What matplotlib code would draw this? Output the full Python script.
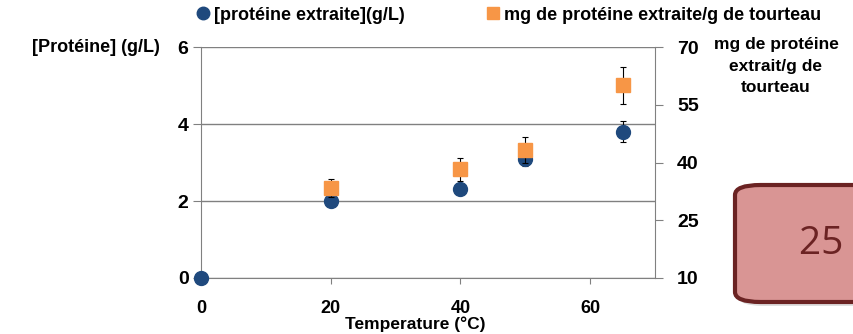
import matplotlib
matplotlib.use("Agg")
import matplotlib.pyplot as plt
from matplotlib.lines import Line2D
from matplotlib.patches import FancyBboxPatch

# ── Data ───────────────────────────────────────────────────────────────────────
TEMP_CONC = [0, 20, 40, 50, 65]
CONC      = [0.0, 2.0, 2.3, 3.1, 3.8]          # [protéine extraite] (g/L)
CONC_ERR  = [0.0, 0.06, 0.12, 0.18, 0.27]

TEMP_MG   = [20, 40, 50, 65]
MG        = [33.4, 38.3, 43.2, 60.1]           # mg protéine / g tourteau
MG_ERR    = [2.3, 3.0, 3.4, 4.8]

LEFT_TICKS  = [0, 2, 4, 6]
RIGHT_TICKS = [10, 25, 40, 55, 70]
X_TICKS     = [0, 20, 40, 60]

# ── Style ──────────────────────────────────────────────────────────────────────
BLUE   = "#1f497d"
ORANGE = "#f79646"
GRID   = "#808080"
FONT   = ["Liberation Sans", "DejaVu Sans"]

plt.rcParams.update({
    "font.family": FONT,
    "font.weight": "bold",
    "font.size":   12,
})

fig = plt.figure(figsize=(8.54, 3.34), dpi=100)
ax = fig.add_axes([0.2354, 0.1677, 0.5316, 0.6913])
ax2 = ax.twinx()

ax.errorbar(TEMP_CONC, CONC, yerr=CONC_ERR, fmt="o", color=BLUE, ms=10,
            ecolor="black", elinewidth=0.8, capsize=2.5, capthick=0.8,
            zorder=4, clip_on=False)
ax2.errorbar(TEMP_MG, MG, yerr=MG_ERR, fmt="s", color=ORANGE, ms=10,
             ecolor="black", elinewidth=0.8, capsize=2.5, capthick=0.8,
             zorder=3, clip_on=False)

ax.set_xlim(0, 70)
ax.set_ylim(0, 6)
ax2.set_ylim(10, 70)
ax.set_xticks(X_TICKS)
ax.set_yticks(LEFT_TICKS)
ax2.set_yticks(RIGHT_TICKS)

ax.yaxis.grid(True, color=GRID, lw=1)
ax.set_axisbelow(True)

for a in (ax, ax2):
    for s in a.spines.values():
        s.set_color(GRID)
    a.spines["top"].set_visible(False)
ax.spines["right"].set_visible(False)
ax2.spines["left"].set_visible(False)
ax2.spines["bottom"].set_visible(False)

ax.tick_params(axis="y", length=6, color=GRID, pad=3, labelsize=14)
ax.tick_params(axis="x", length=4, color=GRID, pad=12, labelsize=13)
ax2.tick_params(axis="y", length=6, color=GRID, pad=10, labelsize=14)

# axis titles
fig.text(160 / 854, 1 - 47 / 334, "[Protéine] (g/L)", ha="right", va="center",
         fontsize=13)
fig.text(776 / 854, 1 - 37 / 334, "mg de protéine\nextrait/g de\ntourteau",
         ha="center", va="top", multialignment="center", fontsize=12.5,
         linespacing=1.55)
fig.text(415 / 854, 1 - 324 / 334, "Temperature (°C)", ha="center",
         va="center", fontsize=12.5)

# legend
handles = [
    Line2D([], [], marker="o", ls="none", color=BLUE, ms=9),
    Line2D([], [], marker="s", ls="none", color=ORANGE, ms=9),
]
fig.legend(handles, ["[protéine extraite](g/L)",
                     "mg de protéine extraite/g de tourteau"],
           loc="center", bbox_to_anchor=(0.596, 0.955), ncol=2, frameon=False,
           fontsize=13, handlelength=0.6, handletextpad=0.3,
           columnspacing=4.6, borderaxespad=0)

# rounded callout box at lower right
shadow = FancyBboxPatch((738 / 854, 1 - 306 / 334), 0.3, 116 / 334,
                        boxstyle="round,pad=0,rounding_size=0.03",
                        transform=fig.transFigure, fc="#c8c8c8", ec="none",
                        alpha=0.6, zorder=1)
box = FancyBboxPatch((735 / 854, 1 - 302 / 334), 0.3, 117 / 334,
                     boxstyle="round,pad=0,rounding_size=0.03",
                     transform=fig.transFigure, fc="#d99594", ec="#6b2323",
                     lw=3, zorder=2)
fig.patches.extend([shadow, box])
fig.text(799 / 854, 1 - 244 / 334, "25 °C", ha="left", va="center",
         fontsize=28, fontweight="normal", color="#6b2323",
         family=["Open Sans", "DejaVu Sans"], zorder=3)

fig.savefig("out.png", dpi=100)
